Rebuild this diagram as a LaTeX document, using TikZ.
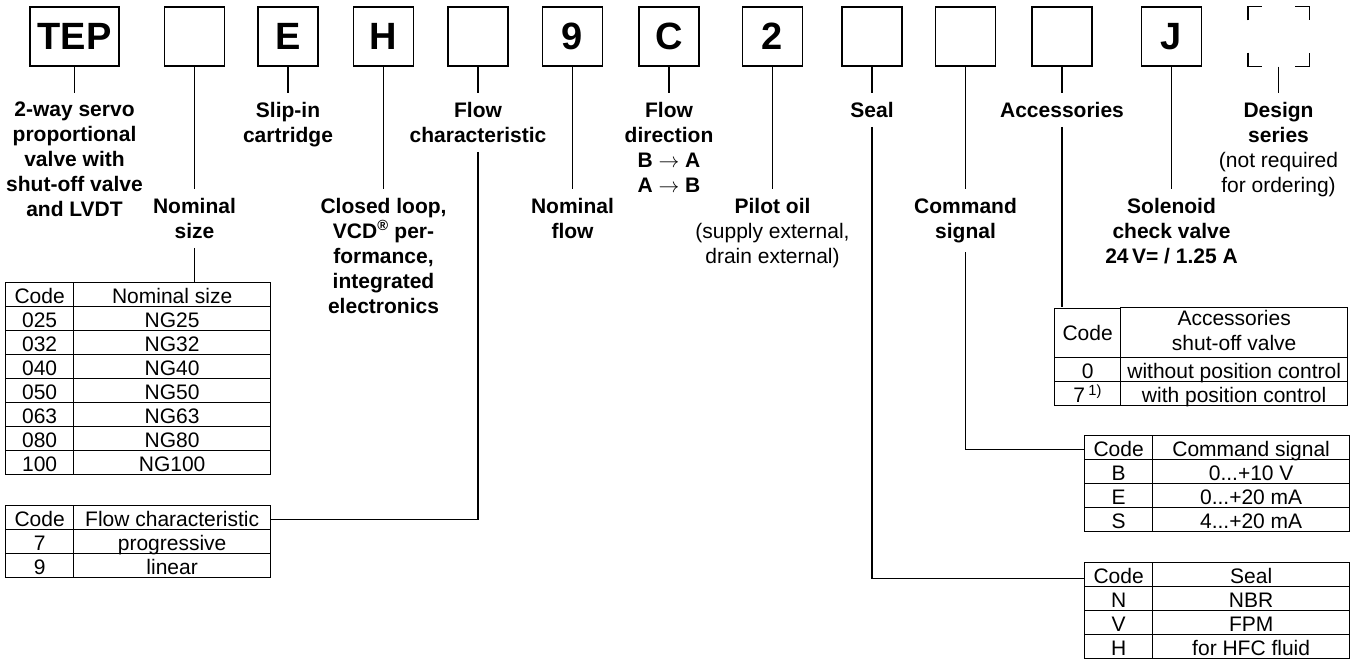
\documentclass[tikz,border=0pt]{standalone}
\usepackage{fontspec}
\setmainfont{Liberation Sans}
\usetikzlibrary{matrix}

\newcommand{\txtfont}{\fontsize{21}{25}\selectfont}

\tikzset{
    codebox/.style={draw, line width=1.3pt, minimum width=60pt, minimum height=59pt,
        inner sep=0pt, font=\fontsize{38}{38}\selectfont\bfseries},
    lab/.style={anchor=north, align=center, inner xsep=0pt, inner ysep=9pt, font=\txtfont\bfseries},
    conn/.style={line width=1.1pt},
    tcell/.style={draw, anchor=center, line width=1.3pt, minimum height=24pt, inner sep=0pt,
        outer sep=0pt, text height=18pt, text depth=0pt, font=\txtfont},
    hcell/.style={minimum height=49pt, text height=, text depth=},
    codetab/.style={matrix of nodes, anchor=north west, inner sep=0pt, outer sep=0pt,
        row sep=-1.3pt, column sep=-1.3pt, nodes={tcell}},
}

\begin{document}
\begin{tikzpicture}[x=1pt, y=1pt]
    \useasboundingbox (0,0) rectangle (1356,-659);

    % Code boxes
    \node[codebox, minimum width=89pt] (b1) at (74.5,-36.5) {TEP};
    \node[codebox] (b2) at (194.5,-36.5) {};
    \node[codebox] (b3) at (288,-36.5) {E};
    \node[codebox] (b4) at (383.5,-36.5) {H};
    \node[codebox] (b5) at (478,-36.5) {};
    \node[codebox] (b6) at (572.5,-36.5) {9};
    \node[codebox] (b7) at (669,-36.5) {C};
    \node[codebox] (b8) at (772.5,-36.5) {2};
    \node[codebox] (b9) at (872,-36.5) {};
    \node[codebox] (b10) at (965.5,-36.5) {};
    \node[codebox] (b11) at (1062,-36.5) {};
    \node[codebox] (b12) at (1171.5,-36.5) {J};
    \node[codebox, draw=none] (b13) at (1278.5,-36.5) {};

    % Design series box: corners only
    \draw[line width=1.3pt] ([yshift=-14pt]b13.north west) |- ([xshift=14pt]b13.north west);
    \draw[line width=1.3pt] ([xshift=-14pt]b13.north east) -| ([yshift=-14pt]b13.north east);
    \draw[line width=1.3pt] ([yshift=14pt]b13.south west) |- ([xshift=14pt]b13.south west);
    \draw[line width=1.3pt] ([xshift=-14pt]b13.south east) -| ([yshift=14pt]b13.south east);

    % Labels
    \node[lab] (l1) at (74.5,-93) {2-way servo\\proportional\\valve with\\shut-off valve\\and LVDT};
    \node[lab] (l2) at (194.5,-189) {Nominal\\size};
    \node[lab] (l3) at (288,-93) {Slip-in\\cartridge};
    \node[lab] (l4) at (383.5,-189) {Closed loop,\\VCD\textsuperscript{\textregistered} per-\\formance,\\integrated\\electronics};
    \node[lab] (l5) at (478,-93) {Flow\\characteristic};
    \node[lab] (l6) at (572.5,-189) {Nominal\\flow};
    \node[lab] (l7) at (669,-93) {Flow\\direction\\B $\rightarrow$ A\\A $\rightarrow$ B};
    \node[lab] (l8) at (772.5,-189) {Pilot oil\\{\mdseries (supply external,}\\{\mdseries drain external)}};
    \node[lab] (l9) at (872,-93) {Seal};
    \node[lab] (l10) at (965.5,-189) {Command\\signal};
    \node[lab] (l11) at (1062,-93) {Accessories};
    \node[lab] (l12) at (1171.5,-189) {Solenoid\\check valve\\24\,V= / 1.25 A};
    \node[lab] (l13) at (1278.5,-93) {Design\\series\\{\mdseries (not required}\\{\mdseries for ordering)}};

    \foreach \i in {1,...,13} {
        \draw[conn] (b\i) -- (l\i);
    }

    % Tables
    \matrix (tns) [codetab, column 1/.style={nodes={minimum width=68pt}},
        column 2/.style={nodes={minimum width=197pt}}] at (5,-282) {
        Code & Nominal size \\
        025 & NG25 \\
        032 & NG32 \\
        040 & NG40 \\
        050 & NG50 \\
        063 & NG63 \\
        080 & NG80 \\
        100 & NG100 \\
    };
    \matrix (tfc) [codetab, column 1/.style={nodes={minimum width=68pt}},
        column 2/.style={nodes={minimum width=197pt}}] at (5,-505) {
        Code & Flow characteristic \\
        7 & progressive \\
        9 & linear \\
    };
    \matrix (tacc) [codetab, column 1/.style={nodes={minimum width=66pt}},
        column 2/.style={nodes={minimum width=227pt}}] at (1054,-307) {
        |[hcell]| Code & |[hcell]| {\begin{tabular}{@{}c@{}}Accessories\\shut-off valve\end{tabular}} \\
        0 & without position control \\
        7\,\textsuperscript{1)} & with position control \\
    };
    \matrix (tcs) [codetab, column 1/.style={nodes={minimum width=68pt}},
        column 2/.style={nodes={minimum width=197pt}}] at (1084,-435) {
        Code & Command signal \\
        B & 0...+10 V \\
        E & 0...+20 mA \\
        S & 4...+20 mA \\
    };
    \matrix (tseal) [codetab, column 1/.style={nodes={minimum width=68pt}},
        column 2/.style={nodes={minimum width=197pt}}] at (1084,-562) {
        Code & Seal \\
        N & NBR \\
        V & FPM \\
        H & for HFC fluid \\
    };

    % Connectors to tables
    \draw[conn] (l2.south) -- (l2.south |- tns.north);
    \draw[conn] (l5.south) |- ([yshift=-2pt]tfc-1-2.east);
    \draw[conn] (l11.south) -- (l11.south |- tacc.north);
    \draw[conn] (l10.south) |- ([yshift=-2pt]tcs-1-1.west);
    \draw[conn] (l9.south) |- ([yshift=-4pt]tseal-1-1.west);
\end{tikzpicture}
\end{document}
